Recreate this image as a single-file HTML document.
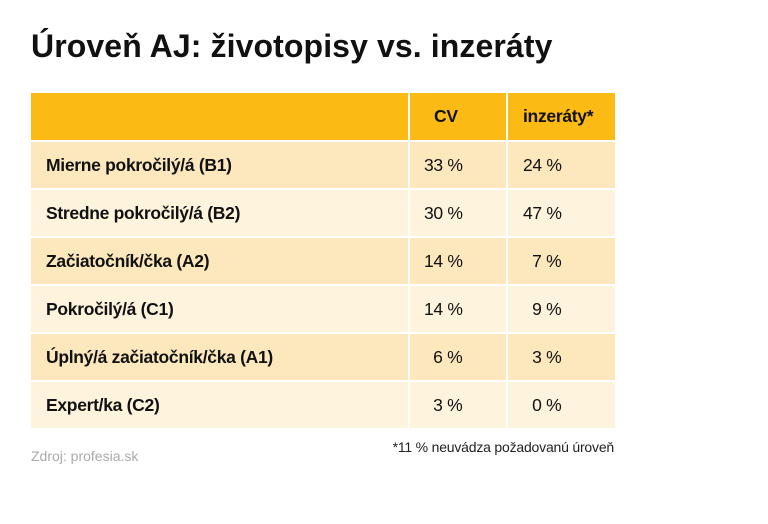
<!DOCTYPE html>
<html><head><meta charset="utf-8"><style>
body{margin:0;width:768px;height:524px;background:#fff;font-family:"Liberation Sans",sans-serif;position:relative;overflow:hidden}
h1{position:absolute;left:31px;top:28px;margin:0;font-size:32px;font-weight:bold;color:#111;letter-spacing:0.1px}
table{position:absolute;left:29px;top:91px;border-collapse:collapse;width:586px;table-layout:fixed}
td{border:2px solid #fff;height:48px;padding:0;font-size:17.5px;color:#111;box-sizing:border-box;white-space:nowrap;letter-spacing:-0.3px}
tr.h td{height:49px}
td.l{padding-left:15px;font-weight:bold;width:379px}
td.a{width:98px;padding-left:14px}
td.b{width:109px;padding-left:15px}
tr.h td{background:#fbbb14;font-weight:bold}
tr.d td{background:#fde8bd}
tr.e td{background:#fef3dc}
.fn{position:absolute;right:154px;top:439px;font-size:14px;color:#222;letter-spacing:-0.2px}
.src{position:absolute;left:31px;top:448px;font-size:14px;color:#aaa}
</style></head><body>
<h1>Úroveň AJ: životopisy vs. inzeráty</h1>
<table>
<tr class="h"><td class="l"></td><td class="a" style="padding-left:24px">CV</td><td class="b">inzeráty*</td></tr>
<tr class="d"><td class="l">Mierne pokročilý/á (B1)</td><td class="a">33 %</td><td class="b">24 %</td></tr>
<tr class="e"><td class="l">Stredne pokročilý/á (B2)</td><td class="a">30 %</td><td class="b">47 %</td></tr>
<tr class="d"><td class="l">Začiatočník/čka (A2)</td><td class="a">14 %</td><td class="b">&nbsp;&nbsp;7 %</td></tr>
<tr class="e"><td class="l">Pokročilý/á (C1)</td><td class="a">14 %</td><td class="b">&nbsp;&nbsp;9 %</td></tr>
<tr class="d"><td class="l">Úplný/á začiatočník/čka (A1)</td><td class="a">&nbsp;&nbsp;6 %</td><td class="b">&nbsp;&nbsp;3 %</td></tr>
<tr class="e"><td class="l">Expert/ka (C2)</td><td class="a">&nbsp;&nbsp;3 %</td><td class="b">&nbsp;&nbsp;0 %</td></tr>
</table>
<div class="fn">*11 % neuvádza požadovanú úroveň</div>
<div class="src">Zdroj: profesia.sk</div>
</body></html>
